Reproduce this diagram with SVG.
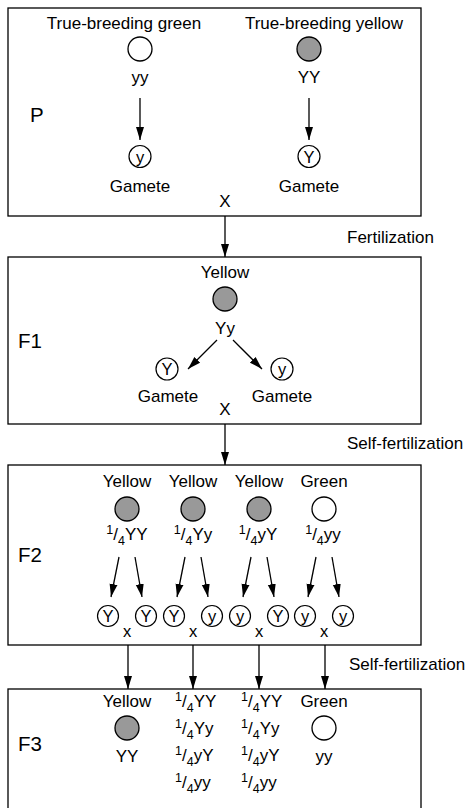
<svg xmlns="http://www.w3.org/2000/svg" width="466" height="808" viewBox="0 0 466 808">
<defs>
<marker id="ah" markerUnits="userSpaceOnUse" markerWidth="14" markerHeight="9" refX="13" refY="4.5" orient="auto"><path d="M0,0.5 L13,4.5 L0,8.5 Z" fill="#000"/></marker>
<style>
text{font-family:"Liberation Sans",Arial,sans-serif;font-size:17px;fill:#000;text-anchor:middle}
.lab{font-size:20.5px;text-anchor:start}
.st{text-anchor:start}
.s{font-size:12.5px}
.gl{font-size:16.5px}
.box{fill:#fff;stroke:#000;stroke-width:1.3}
.yc{fill:#999;stroke:#000;stroke-width:1.3}
.wc{fill:#fff;stroke:#000;stroke-width:1.3}
.gm{fill:#fff;stroke:#000;stroke-width:1.2}
.arr{stroke:#000;stroke-width:1.3;fill:none;marker-end:url(#ah)}
</style>
</defs>
<rect width="466" height="808" fill="#fff"/>

<g id="P">
<rect class="box" x="8" y="8" width="413" height="208"/>
<text class="lab" x="30" y="122">P</text>
<g id="P-green">
<text x="124" y="29">True-breeding green</text>
<circle class="wc" cx="140" cy="49" r="12"/>
<text x="140" y="83">yy</text>
<circle class="gm" cx="140" cy="156.5" r="11"/>
<text class="gl" x="140" y="162.5">y</text>
<text x="140" y="192">Gamete</text>
</g>
<g id="P-yellow">
<text x="324" y="29">True-breeding yellow</text>
<circle class="yc" cx="309" cy="49" r="12"/>
<text x="309" y="83">YY</text>
<circle class="gm" cx="309" cy="156.5" r="11"/>
<text class="gl" x="309" y="162.5">Y</text>
<text x="309" y="192">Gamete</text>
</g>
<text x="225" y="207">X</text>
</g>

<g id="F1">
<rect class="box" x="8" y="257" width="413" height="167"/>
<text class="lab" x="18" y="348">F1</text>
<text x="225" y="278">Yellow</text>
<circle class="yc" cx="225" cy="299" r="12"/>
<text x="225" y="334">Yy</text>
<circle class="gm" cx="167" cy="369" r="11"/>
<text class="gl" x="167" y="375">Y</text>
<text x="168" y="402">Gamete</text>
<circle class="gm" cx="282" cy="369" r="11"/>
<text class="gl" x="282" y="375">y</text>
<text x="282" y="402">Gamete</text>
<text x="225" y="415">X</text>
</g>

<g id="F2">
<rect class="box" x="8" y="465" width="413" height="180"/>
<text class="lab" x="18" y="562">F2</text>
<g id="F2-c1">
<text x="127" y="487">Yellow</text>
<circle class="yc" cx="127" cy="509" r="12"/>
<text x="127" y="540"><tspan class="s" dy="-6">1</tspan><tspan dy="6">/</tspan><tspan class="s" dy="5">4</tspan><tspan dy="-5">YY</tspan></text>
<circle class="gm" cx="108" cy="616" r="10.5"/><text class="gl" x="108" y="622">Y</text>
<circle class="gm" cx="146" cy="616" r="10.5"/><text class="gl" x="146" y="622">Y</text>
<text class="gl" x="127" y="637">x</text>
</g>
<g id="F2-c2">
<text x="193" y="487">Yellow</text>
<circle class="yc" cx="193" cy="509" r="12"/>
<text x="193" y="540"><tspan class="s" dy="-6">1</tspan><tspan dy="6">/</tspan><tspan class="s" dy="5">4</tspan><tspan dy="-5">Yy</tspan></text>
<circle class="gm" cx="174" cy="616" r="10.5"/><text class="gl" x="174" y="622">Y</text>
<circle class="gm" cx="212" cy="616" r="10.5"/><text class="gl" x="212" y="622">y</text>
<text class="gl" x="193" y="637">x</text>
</g>
<g id="F2-c3">
<text x="259" y="487">Yellow</text>
<circle class="yc" cx="259" cy="509" r="12"/>
<text x="258" y="540"><tspan class="s" dy="-6">1</tspan><tspan dy="6">/</tspan><tspan class="s" dy="5">4</tspan><tspan dy="-5">yY</tspan></text>
<circle class="gm" cx="240" cy="616" r="10.5"/><text class="gl" x="240" y="622">y</text>
<circle class="gm" cx="278" cy="616" r="10.5"/><text class="gl" x="278" y="622">Y</text>
<text class="gl" x="259" y="637">x</text>
</g>
<g id="F2-c4">
<text x="324" y="487">Green</text>
<circle class="wc" cx="324" cy="509" r="12"/>
<text x="323" y="540"><tspan class="s" dy="-6">1</tspan><tspan dy="6">/</tspan><tspan class="s" dy="5">4</tspan><tspan dy="-5">yy</tspan></text>
<circle class="gm" cx="305" cy="616" r="10.5"/><text class="gl" x="305" y="622">y</text>
<circle class="gm" cx="343" cy="616" r="10.5"/><text class="gl" x="343" y="622">y</text>
<text class="gl" x="324" y="637">x</text>
</g>
</g>

<g id="F3">
<rect class="box" x="8" y="689" width="413" height="130"/>
<text class="lab" x="18" y="751">F3</text>
<g id="F3-c1">
<text x="127" y="707">Yellow</text>
<circle class="yc" cx="127" cy="728" r="12"/>
<text x="127" y="762">YY</text>
</g>
<g id="F3-c2">
<text class="st" x="175" y="707"><tspan class="s" dy="-6">1</tspan><tspan dy="6">/</tspan><tspan class="s" dy="5">4</tspan><tspan dy="-5">YY</tspan></text>
<text class="st" x="175" y="734"><tspan class="s" dy="-6">1</tspan><tspan dy="6">/</tspan><tspan class="s" dy="5">4</tspan><tspan dy="-5">Yy</tspan></text>
<text class="st" x="175" y="761"><tspan class="s" dy="-6">1</tspan><tspan dy="6">/</tspan><tspan class="s" dy="5">4</tspan><tspan dy="-5">yY</tspan></text>
<text class="st" x="175" y="788"><tspan class="s" dy="-6">1</tspan><tspan dy="6">/</tspan><tspan class="s" dy="5">4</tspan><tspan dy="-5">yy</tspan></text>
</g>
<g id="F3-c3">
<text class="st" x="241" y="707"><tspan class="s" dy="-6">1</tspan><tspan dy="6">/</tspan><tspan class="s" dy="5">4</tspan><tspan dy="-5">YY</tspan></text>
<text class="st" x="241" y="734"><tspan class="s" dy="-6">1</tspan><tspan dy="6">/</tspan><tspan class="s" dy="5">4</tspan><tspan dy="-5">Yy</tspan></text>
<text class="st" x="241" y="761"><tspan class="s" dy="-6">1</tspan><tspan dy="6">/</tspan><tspan class="s" dy="5">4</tspan><tspan dy="-5">yY</tspan></text>
<text class="st" x="241" y="788"><tspan class="s" dy="-6">1</tspan><tspan dy="6">/</tspan><tspan class="s" dy="5">4</tspan><tspan dy="-5">yy</tspan></text>
</g>
<g id="F3-c4">
<text x="324" y="707">Green</text>
<circle class="wc" cx="324" cy="728" r="12"/>
<text x="324" y="762">yy</text>
</g>
</g>

<g id="connectors">
<line class="arr" x1="140" y1="98" x2="140" y2="140"/>
<line class="arr" x1="309" y1="98" x2="309" y2="140"/>
<line class="arr" x1="225" y1="216" x2="225" y2="257"/>
<text class="st" x="347" y="243">Fertilization</text>
<line class="arr" x1="217" y1="340" x2="188" y2="369"/>
<line class="arr" x1="233" y1="340" x2="262" y2="369"/>
<line class="arr" x1="225" y1="424" x2="225" y2="465"/>
<text class="st" x="347" y="449">Self-fertilization</text>
<line class="arr" x1="119" y1="557" x2="111" y2="597"/>
<line class="arr" x1="135" y1="557" x2="142" y2="597"/>
<line class="arr" x1="185" y1="557" x2="177" y2="597"/>
<line class="arr" x1="201" y1="557" x2="208" y2="597"/>
<line class="arr" x1="251" y1="557" x2="243" y2="597"/>
<line class="arr" x1="267" y1="557" x2="274" y2="597"/>
<line class="arr" x1="316" y1="557" x2="308" y2="597"/>
<line class="arr" x1="332" y1="557" x2="339" y2="597"/>
<line class="arr" x1="128" y1="645" x2="128" y2="689"/>
<line class="arr" x1="193" y1="645" x2="193" y2="689"/>
<line class="arr" x1="259" y1="645" x2="259" y2="689"/>
<line class="arr" x1="325" y1="645" x2="325" y2="689"/>
<text class="st" x="349" y="670">Self-fertilization</text>
</g>
</svg>
